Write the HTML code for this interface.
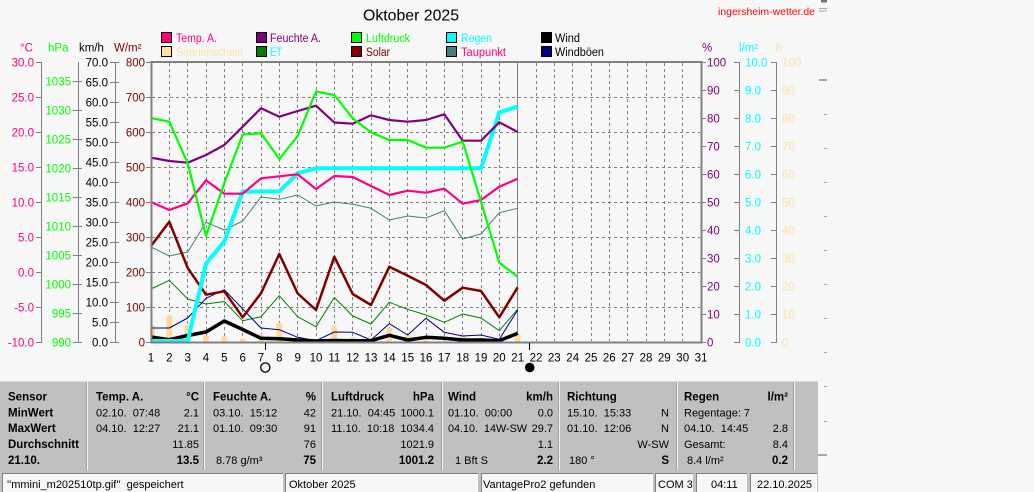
<!DOCTYPE html>
<html><head><meta charset="utf-8">
<style>
html,body{margin:0;padding:0;background:#f7f7f7;width:1034px;height:492px;overflow:hidden;}
svg{position:absolute;left:0;top:0;}
text{font-family:"Liberation Sans",Arial,sans-serif;font-size:11.5px;}
.b{font-weight:bold;}
.e{text-anchor:end;}
.m{text-anchor:middle;}
.tb text{font-size:11px;}
.tb text.b{font-size:11.5px;}
</style></head>
<body>
<svg width="1034" height="492" viewBox="0 0 1034 492" xmlns="http://www.w3.org/2000/svg">
<!-- title -->
<text x="363" y="20.5" style="font-size:16px" textLength="96" lengthAdjust="spacingAndGlyphs">Oktober 2025</text>
<text x="718" y="14.8" style="font-size:10.5px" fill="#ff0000" textLength="97" lengthAdjust="spacingAndGlyphs">ingersheim-wetter.de</text>

<!-- right side ghost marks -->
<g fill="#a8a8a8">
<rect x="821" y="0" width="6" height="2.5" fill="#707070"/>
<rect x="819" y="8" width="8" height="1"/><rect x="819" y="10.5" width="8" height="1"/>
<rect x="819" y="79" width="8" height="2"/>
<rect x="824" y="114" width="3" height="1"/><rect x="824" y="148" width="3" height="1"/>
<rect x="824" y="182" width="3" height="1"/><rect x="824" y="216" width="3" height="1"/>
<rect x="824" y="250" width="3" height="1"/><rect x="824" y="284" width="3" height="1"/>
<rect x="824" y="318" width="3" height="1"/><rect x="824" y="352" width="3" height="1"/>
<rect x="824" y="386" width="3" height="1"/><rect x="824" y="421" width="3" height="1"/>
<rect x="818" y="454" width="9" height="2"/>
</g>

<!-- legend -->
<g stroke="#000" stroke-width="1">
<rect x="161.5" y="32.5" width="10" height="10" fill="#ff0080"/>
<rect x="161.5" y="46.5" width="10" height="10" fill="#ffe0a0"/>
<rect x="256.5" y="32.5" width="10" height="10" fill="#800080"/>
<rect x="256.5" y="46.5" width="10" height="10" fill="#008000"/>
<rect x="351.5" y="32.5" width="10" height="10" fill="#00ff00"/>
<rect x="351.5" y="46.5" width="10" height="10" fill="#800000"/>
<rect x="446.5" y="32.5" width="10" height="10" fill="#00ffff"/>
<rect x="446.5" y="46.5" width="10" height="10" fill="#408080"/>
<rect x="541.5" y="32.5" width="10" height="10" fill="#000000"/>
<rect x="541.5" y="46.5" width="10" height="10" fill="#000080"/>
</g>
<text x="176" y="42" fill="#ff0080" textLength="41" lengthAdjust="spacingAndGlyphs">Temp. A.</text>
<text x="176" y="56" fill="#ffe0a0" textLength="67" lengthAdjust="spacingAndGlyphs">Sonnenschein</text>
<text x="270" y="42" fill="#800080" textLength="51" lengthAdjust="spacingAndGlyphs">Feuchte A.</text>
<text x="270" y="56" fill="#00ffff" textLength="12" lengthAdjust="spacingAndGlyphs">ET</text>
<text x="366" y="42" fill="#00ff00" textLength="44" lengthAdjust="spacingAndGlyphs">Luftdruck</text>
<text x="366" y="56" fill="#800000" textLength="24" lengthAdjust="spacingAndGlyphs">Solar</text>
<text x="461" y="42" fill="#00ffff" textLength="31" lengthAdjust="spacingAndGlyphs">Regen</text>
<text x="461" y="56" fill="#ff0080" textLength="45" lengthAdjust="spacingAndGlyphs">Taupunkt</text>
<text x="555" y="42" fill="#000" textLength="25" lengthAdjust="spacingAndGlyphs">Wind</text>
<text x="555" y="56" fill="#000" textLength="49" lengthAdjust="spacingAndGlyphs">Windböen</text>

<!-- unit labels -->
<text x="20" y="51.5" fill="#ff0080">°C</text>
<text x="48" y="51.5" fill="#00ff00">hPa</text>
<text x="79" y="51.5" fill="#000">km/h</text>
<text x="114" y="51.5" fill="#800000">W/m²</text>
<text x="702" y="51.5" fill="#800080">%</text>
<text x="739" y="51.5" fill="#00ffff">l/m²</text>
<text x="776" y="51.5" fill="#ffe0a0">h</text>

<!-- axis lines and ticks -->
<g stroke="#808080" stroke-width="1" fill="none">
<path d="M41.5 62V342 M78.5 62V342 M115.5 62V342 M739.5 62V342 M776.5 62V342"/>
<path d="M36 62.5H42 M36 97.5H42 M36 132.5H42 M36 167.5H42 M36 202.5H42 M36 237.5H42 M36 272.5H42 M36 307.5H42 M36 342.5H42"/>
<path d="M73 81.5H82 M73 110.5H82 M73 139.5H82 M73 168.5H82 M73 197.5H82 M73 226.5H82 M73 255.5H82 M73 284.5H82 M73 313.5H82 M73 342.5H82"/>
<path d="M110 62.5H119 M110 82.5H119 M110 102.5H119 M110 122.5H119 M110 142.5H119 M110 162.5H119 M110 182.5H119 M110 202.5H119 M110 222.5H119 M110 242.5H119 M110 262.5H119 M110 282.5H119 M110 302.5H119 M110 322.5H119 M110 342.5H119"/>
<path d="M146 62.5H151 M146 97.5H151 M146 132.5H151 M146 167.5H151 M146 202.5H151 M146 237.5H151 M146 272.5H151 M146 307.5H151 M146 342.5H151"/>
<path d="M701 62.5H706 M701 90.5H706 M701 118.5H706 M701 146.5H706 M701 174.5H706 M701 202.5H706 M701 230.5H706 M701 258.5H706 M701 286.5H706 M701 314.5H706 M701 342.5H706"/>
<path d="M734 62.5H740 M734 90.5H740 M734 118.5H740 M734 146.5H740 M734 174.5H740 M734 202.5H740 M734 230.5H740 M734 258.5H740 M734 286.5H740 M734 314.5H740 M734 342.5H740"/>
<path d="M771 62.5H777 M771 90.5H777 M771 118.5H777 M771 146.5H777 M771 174.5H777 M771 202.5H777 M771 230.5H777 M771 258.5H777 M771 286.5H777 M771 314.5H777 M771 342.5H777"/>
</g>

<!-- axis labels -->
<g fill="#ff0080">
<text class="e" x="34" y="66.5">30.0</text><text class="e" x="34" y="101.5">25.0</text><text class="e" x="34" y="136.5">20.0</text>
<text class="e" x="34" y="171.5">15.0</text><text class="e" x="34" y="206.5">10.0</text><text class="e" x="34" y="241.5">5.0</text>
<text class="e" x="34" y="276.5">0.0</text><text class="e" x="34" y="311.5">-5.0</text><text class="e" x="34" y="346.5">-10.0</text>
</g>
<g fill="#00ff00">
<text class="e" x="71" y="85.5">1035</text><text class="e" x="71" y="114.5">1030</text><text class="e" x="71" y="143.5">1025</text>
<text class="e" x="71" y="172.5">1020</text><text class="e" x="71" y="201.5">1015</text><text class="e" x="71" y="230.5">1010</text>
<text class="e" x="71" y="259.5">1005</text><text class="e" x="71" y="288.5">1000</text><text class="e" x="71" y="317.5">995</text>
<text class="e" x="71" y="346.5">990</text>
</g>
<g fill="#000">
<text class="e" x="108" y="66.5">70.0</text><text class="e" x="108" y="86.5">65.0</text><text class="e" x="108" y="106.5">60.0</text>
<text class="e" x="108" y="126.5">55.0</text><text class="e" x="108" y="146.5">50.0</text><text class="e" x="108" y="166.5">45.0</text>
<text class="e" x="108" y="186.5">40.0</text><text class="e" x="108" y="206.5">35.0</text><text class="e" x="108" y="226.5">30.0</text>
<text class="e" x="108" y="246.5">25.0</text><text class="e" x="108" y="266.5">20.0</text><text class="e" x="108" y="286.5">15.0</text>
<text class="e" x="108" y="306.5">10.0</text><text class="e" x="108" y="326.5">5.0</text><text class="e" x="108" y="346.5">0.0</text>
</g>
<g fill="#800000">
<text class="e" x="145" y="66.5">800</text><text class="e" x="145" y="101.5">700</text><text class="e" x="145" y="136.5">600</text>
<text class="e" x="145" y="171.5">500</text><text class="e" x="145" y="206.5">400</text><text class="e" x="145" y="241.5">300</text>
<text class="e" x="145" y="276.5">200</text><text class="e" x="145" y="311.5">100</text><text class="e" x="145" y="346.5">0</text>
</g>
<g fill="#800080">
<text x="707" y="66.5">100</text><text x="707" y="94.5">90</text><text x="707" y="122.5">80</text><text x="707" y="150.5">70</text>
<text x="707" y="178.5">60</text><text x="707" y="206.5">50</text><text x="707" y="234.5">40</text><text x="707" y="262.5">30</text>
<text x="707" y="290.5">20</text><text x="707" y="318.5">10</text><text x="707" y="346.5">0</text>
</g>
<g fill="#00ffff">
<text x="745" y="66.5">10.0</text><text x="745" y="94.5">9.0</text><text x="745" y="122.5">8.0</text><text x="745" y="150.5">7.0</text>
<text x="745" y="178.5">6.0</text><text x="745" y="206.5">5.0</text><text x="745" y="234.5">4.0</text><text x="745" y="262.5">3.0</text>
<text x="745" y="290.5">2.0</text><text x="745" y="318.5">1.0</text><text x="745" y="346.5">0.0</text>
</g>
<g fill="#ffe0a0">
<text x="782" y="66.5">100</text><text x="782" y="94.5">90</text><text x="782" y="122.5">80</text><text x="782" y="150.5">70</text>
<text x="782" y="178.5">60</text><text x="782" y="206.5">50</text><text x="782" y="234.5">40</text><text x="782" y="262.5">30</text>
<text x="782" y="290.5">20</text><text x="782" y="318.5">10</text><text x="782" y="346.5">0</text>
</g>

<!-- grid -->
<g stroke="#808080" stroke-width="1" stroke-dasharray="3,3" fill="none">
<path d="M152 97.5H700 M152 132.5H700 M152 167.5H700 M152 202.5H700 M152 237.5H700 M152 272.5H700 M152 307.5H700"/>
<path d="M169.5 63V341 M187.5 63V341 M206.5 63V341 M224.5 63V341 M242.5 63V341 M261.5 63V341 M279.5 63V341 M297.5 63V341 M316.5 63V341 M334.5 63V341 M352.5 63V341 M371.5 63V341 M389.5 63V341 M407.5 63V341 M426.5 63V341 M444.5 63V341 M462.5 63V341 M481.5 63V341 M499.5 63V341 M536.5 63V341 M554.5 63V341 M572.5 63V341 M591.5 63V341 M609.5 63V341 M627.5 63V341 M646.5 63V341 M664.5 63V341 M682.5 63V341"/>
</g>
<path d="M517.5 62V342" stroke="#808080" stroke-width="1"/>

<!-- sunshine bars -->
<g fill="#ffd89c">
<rect x="150" y="325" width="5" height="17" rx="2"/>
<rect x="166.3" y="315" width="6" height="27" rx="2.5"/>
<rect x="184.7" y="325" width="6" height="17" rx="2.5"/>
<rect x="203" y="335" width="6" height="7" rx="2.5"/>
<rect x="221.3" y="336" width="6" height="6" rx="2.5"/>
<rect x="239.7" y="339" width="6" height="3" rx="1.5"/>
<rect x="258" y="334" width="6" height="8" rx="2.5"/>
<rect x="276.3" y="322.7" width="6" height="19.3" rx="2.5"/>
<rect x="294.7" y="337.3" width="6" height="4.7" rx="2"/>
<rect x="331.3" y="326" width="6" height="16" rx="2.5"/>
<rect x="349.7" y="337.3" width="6" height="4.7" rx="2"/>
<rect x="386.3" y="327.7" width="6" height="14.3" rx="2.5"/>
<rect x="404.7" y="334" width="6" height="8" rx="2.5"/>
<rect x="423" y="336" width="6" height="6" rx="2.5"/>
<rect x="459.7" y="334.3" width="6" height="7.7" rx="2.5"/>
<rect x="478" y="337.3" width="6" height="4.7" rx="2"/>
<rect x="514.7" y="333.3" width="6" height="8.7" rx="2.5"/>
</g>

<!-- series -->
<g fill="none" stroke-linejoin="round">
<polyline stroke="#008000" stroke-width="1" points="151,289 169.3,280.3 187.7,299 206,304 224.3,301.5 242.7,320.8 261,316.7 279.3,295.7 297.7,316.7 316,326.7 334.3,297.5 352.7,316 371,324 389.3,302.3 407.7,309.3 426,315 444.3,322.3 462.7,314 481,318 499.3,330.7 517.7,309.3"/>
<polyline stroke="#000080" stroke-width="1" points="151,328 169.3,328 187.7,318 206,298.3 224.3,289.7 242.7,309 261,328 279.3,329.7 297.7,337.3 316,340.7 334.3,332 352.7,332.3 371,340 389.3,323.7 407.7,335 426,318.3 444.3,332.3 462.7,336 481,335 499.3,339.3 517.7,310"/>
<polyline stroke="#408080" stroke-width="1" points="151,247 169.3,256 187.7,252 206,222.3 224.3,230 242.7,221 261,197 279.3,199.3 297.7,195 316,206 334.3,202 352.7,204.3 371,208.3 389.3,220 407.7,216 426,218 444.3,210.7 462.7,239 481,234 499.3,212.7 517.7,208.3"/>
<polyline stroke="#800000" stroke-width="2.5" points="151,246 169.3,221.7 187.7,268 206,294.7 224.3,291.3 242.7,317.3 261,293.3 279.3,254 297.7,293.5 316,310 334.3,256.7 352.7,294 371,305 389.3,266.7 407.7,275.7 426,285 444.3,300.7 462.7,287.7 481,291 499.3,317.3 517.7,287.3"/>
<polyline stroke="#000000" stroke-width="3.5" points="151,337 169.3,339.7 187.7,335.5 206,332 224.3,321 242.7,329.5 261,338.3 279.3,338.7 297.7,340 316,341 334.3,340.5 352.7,340.7 371,340.7 389.3,335.3 407.7,340 426,337.3 444.3,338.3 462.7,340 481,340 499.3,340.7 517.7,333.3"/>
<polyline stroke="#00ffff" stroke-width="4" points="151,341 187.7,341 206,263.5 224.3,241.5 242.7,191.5 279.3,191.5 297.7,173.3 316,168.3 481,168.3 499.3,112.3 517.7,106.7"/>
<polyline stroke="#ff0080" stroke-width="2.2" points="151,202 169.3,210 187.7,203.3 206,180.3 224.3,193.7 242.7,193.7 261,178.3 279.3,176.3 297.7,174.3 316,189 334.3,176 352.7,177 371,186 389.3,195 407.7,190.7 426,192.7 444.3,188.7 462.7,203.7 481,200 499.3,186.7 517.7,178.7"/>
<polyline stroke="#800080" stroke-width="2.2" points="151,157.7 169.3,161 187.7,162.7 206,155 224.3,145 242.7,126.7 261,108.3 279.3,116.7 297.7,111 316,105.7 334.3,122.5 352.7,123.7 371,115.3 389.3,120 407.7,121.7 426,120 444.3,114.3 462.7,140.7 481,140.7 499.3,122.3 517.7,132"/>
<polyline stroke="#00ff00" stroke-width="2.2" points="151,118 169.3,121.7 187.7,163.3 206,236 224.3,183 242.7,134.5 261,133.3 279.3,159 297.7,136 316,91.5 334.3,95 352.7,118.3 371,132.3 389.3,140 407.7,140 426,147.7 444.3,147.7 462.7,141.7 481,201.7 499.3,262.7 517.7,276.7"/>
</g>

<!-- frame -->
<rect x="151.5" y="62" width="550" height="280.5" fill="none" stroke="#808080" stroke-width="2"/>

<!-- moon markers -->
<path d="M265.5 343V350 M529.5 343V350" stroke="#000" stroke-width="1"/>
<circle cx="265.3" cy="367.5" r="4.6" fill="none" stroke="#000" stroke-width="1.3"/>
<circle cx="529.7" cy="367.5" r="4.8" fill="#000"/>

<!-- day labels -->
<g fill="#000">
<text class="m" x="151" y="361.5">1</text><text class="m" x="169.3" y="361.5">2</text><text class="m" x="187.7" y="361.5">3</text>
<text class="m" x="206" y="361.5">4</text><text class="m" x="224.3" y="361.5">5</text><text class="m" x="242.7" y="361.5">6</text>
<text class="m" x="261" y="361.5">7</text><text class="m" x="279.3" y="361.5">8</text><text class="m" x="297.7" y="361.5">9</text>
<text class="m" x="316" y="361.5">10</text><text class="m" x="334.3" y="361.5">11</text><text class="m" x="352.7" y="361.5">12</text>
<text class="m" x="371" y="361.5">13</text><text class="m" x="389.3" y="361.5">14</text><text class="m" x="407.7" y="361.5">15</text>
<text class="m" x="426" y="361.5">16</text><text class="m" x="444.3" y="361.5">17</text><text class="m" x="462.7" y="361.5">18</text>
<text class="m" x="481" y="361.5">19</text><text class="m" x="499.3" y="361.5">20</text><text class="m" x="517.7" y="361.5">21</text>
<text class="m" x="536" y="361.5">22</text><text class="m" x="554.3" y="361.5">23</text><text class="m" x="572.7" y="361.5">24</text>
<text class="m" x="591" y="361.5">25</text><text class="m" x="609.3" y="361.5">26</text><text class="m" x="627.7" y="361.5">27</text>
<text class="m" x="646" y="361.5">28</text><text class="m" x="664.3" y="361.5">29</text><text class="m" x="682.7" y="361.5">30</text>
<text class="m" x="701" y="361.5">31</text>
</g>

<!-- table panel -->
<rect x="0" y="381.5" width="818" height="90.5" fill="#c0c0c0"/>
<g stroke-width="1">
<path d="M86.5 382V470 M203.5 382V470 M321.5 382V470 M441.5 382V470 M558.5 382V470 M676.5 382V470 M793.5 382V470" stroke="#a0a0a0"/>
<path d="M87.5 382V470 M204.5 382V470 M322.5 382V470 M442.5 382V470 M559.5 382V470 M677.5 382V470 M794.5 382V470" stroke="#f4f4f4"/>
</g>
<g fill="#000" class="tb">
<text class="b" x="8" y="400.5">Sensor</text>
<text class="b" x="8" y="416.5">MinWert</text>
<text class="b" x="8" y="432">MaxWert</text>
<text class="b" x="8" y="448">Durchschnitt</text>
<text class="b" x="8" y="464">21.10.</text>

<text class="b" x="96" y="400.5">Temp. A.</text><text class="b e" x="199" y="400.5">°C</text>
<text x="96" y="416.5">02.10.&#160;&#160;07:48</text><text class="e" x="199" y="416.5">2.1</text>
<text x="96" y="432">04.10.&#160;&#160;12:27</text><text class="e" x="199" y="432">21.1</text>
<text class="e" x="199" y="448">11.85</text>
<text class="b e" x="199" y="464">13.5</text>

<text class="b" x="213" y="400.5">Feuchte A.</text><text class="b e" x="316" y="400.5">%</text>
<text x="213" y="416.5">03.10.&#160;&#160;15:12</text><text class="e" x="316" y="416.5">42</text>
<text x="213" y="432">01.10.&#160;&#160;09:30</text><text class="e" x="316" y="432">91</text>
<text class="e" x="316" y="448">76</text>
<text x="216" y="464">8.78 g/m³</text><text class="b e" x="316" y="464">75</text>

<text class="b" x="331" y="400.5">Luftdruck</text><text class="b e" x="434" y="400.5">hPa</text>
<text x="331" y="416.5">21.10.&#160;&#160;04:45</text><text class="e" x="434" y="416.5">1000.1</text>
<text x="331" y="432">11.10.&#160;&#160;10:18</text><text class="e" x="434" y="432">1034.4</text>
<text class="e" x="434" y="448">1021.9</text>
<text class="b e" x="434" y="464">1001.2</text>

<text class="b" x="448" y="400.5">Wind</text><text class="b e" x="553" y="400.5">km/h</text>
<text x="448" y="416.5">01.10.&#160;&#160;00:00</text><text class="e" x="553" y="416.5">0.0</text>
<text x="448" y="432" textLength="79" lengthAdjust="spacingAndGlyphs">04.10.&#160;&#160;14W-SW</text><text class="e" x="553" y="432">29.7</text>
<text class="e" x="553" y="448">1.1</text>
<text x="455" y="464">1 Bft S</text><text class="b e" x="553" y="464">2.2</text>

<text class="b" x="567" y="400.5">Richtung</text>
<text x="567" y="416.5">15.10.&#160;&#160;15:33</text><text class="e" x="669" y="416.5">N</text>
<text x="567" y="432">01.10.&#160;&#160;12:06</text><text class="e" x="669" y="432">N</text>
<text class="e" x="669" y="448">W-SW</text>
<text x="569" y="464">180 °</text><text class="b e" x="669" y="464">S</text>

<text class="b" x="684" y="400.5">Regen</text><text class="b e" x="788" y="400.5">l/m²</text>
<text x="684" y="416.5">Regentage: 7</text>
<text x="684" y="432">04.10.&#160;&#160;14:45</text><text class="e" x="788" y="432">2.8</text>
<text x="684" y="448">Gesamt:</text><text class="e" x="788" y="448">8.4</text>
<text x="687" y="464">8.4 l/m²</text><text class="b e" x="788" y="464">0.2</text>
</g>

<!-- status bar -->
<rect x="0" y="472" width="818" height="20" fill="#c0c0c0"/>
<g fill="#f7f7f7" stroke="none">
<rect x="2" y="473.5" width="281" height="19"/>
<rect x="285" y="473.5" width="193" height="19"/>
<rect x="481" y="473.5" width="172" height="19"/>
<rect x="655" y="473.5" width="38" height="19"/>
<rect x="696" y="473.5" width="51" height="19"/>
<rect x="750" y="473.5" width="67" height="19"/>
</g>
<g fill="none" stroke="#808080" stroke-width="1">
<path d="M2.5 492V473.5H283 M285.5 492V473.5H478 M481.5 492V473.5H653 M655.5 492V473.5H693 M696.5 492V473.5H747 M750.5 492V473.5H817"/>
</g>
<g fill="none" stroke="#ffffff" stroke-width="1">
<path d="M282.5 474V492 M477.5 474V492 M652.5 474V492 M692.5 474V492 M746.5 474V492 M816.5 474V492"/>
</g>
<g fill="#000" class="tb">
<text x="7" y="488">''mmini_m202510tp.gif''&#160;&#160;gespeichert</text>
<text x="289" y="488">Oktober 2025</text>
<text x="483" y="488">VantagePro2 gefunden</text>
<text x="658" y="488">COM 3</text>
<text x="711" y="488">04:11</text>
<text x="757" y="488">22.10.2025</text>
</g>
</svg>
</body></html>
